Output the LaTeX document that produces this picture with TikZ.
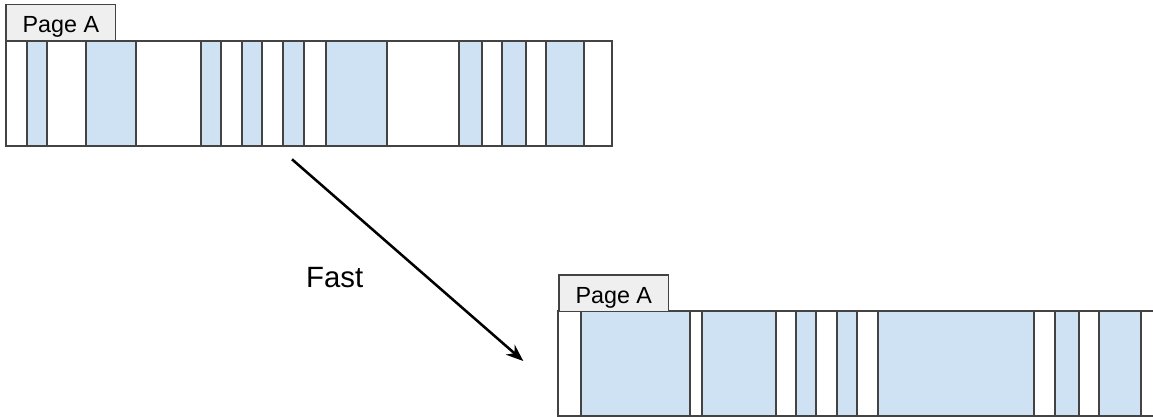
\documentclass[tikz,border=0pt]{standalone}
\usepackage{fontspec}
\setmainfont{Liberation Sans}
\usepackage{xcolor}
\usetikzlibrary{arrows.meta}
\definecolor{lightblue}{HTML}{CFE2F3}
\definecolor{tabgray}{HTML}{EFEFEF}
\definecolor{edgegray}{HTML}{434343}
\tikzset{
  bar/.style={draw=edgegray,line width=1.5pt,fill=white},
  slot/.style={draw=edgegray,line width=1.5pt,fill=lightblue},
  pagetab/.style={draw=edgegray,line width=1pt,fill=tabgray,inner sep=0pt,
    minimum width=82.3pt,minimum height=27.3pt,text height=14.7pt,text depth=0pt,
    font=\fontsize{17.5}{20}\selectfont},
}

\begin{document}
\begin{tikzpicture}[x=0.75pt,y=-0.75pt]
          % frame
          \clip (0,0) rectangle (1153,417);

          % top page
          \draw [bar] (6,40.7) rectangle (612,146);
          \foreach \a/\b in {26.7/47.3, 86/136, 200.7/221, 241.7/262.3, 283/303.7,
                             325.7/387.3, 459.3/481.7, 502/525.7, 545.7/584.3}
            \draw [slot] (\a,40.7) rectangle (\b,146);
          \node[pagetab] (tabtop) at (60.9,22.5) {Page A};

          % bottom page, cut off at the right
          \draw [bar] (558.3,310.7) rectangle (1170,415.7);
          \foreach \a/\b in {580.7/689.7, 701.7/775.7, 796/816.3, 837/857.3,
                             878.3/1033.7, 1054.7/1078.7, 1098.7/1141}
            \draw [slot] (\a,310.7) rectangle (\b,415.7);
          \node[pagetab] (tabbottom) at (613.8,293.2) {Page A};

          % arrow
          \coordinate (faststart) at (292,159.3);
          \coordinate (fastend) at (523.3,361);
          \draw [-{Stealth[length=13pt,width=10pt]},black,line width=1.9pt] (faststart) -- (fastend);
          \node[anchor=base,font=\fontsize{22}{26}\selectfont] (fast) at (334.7,287.7) {Fast};
        \end{tikzpicture}
\end{document}
